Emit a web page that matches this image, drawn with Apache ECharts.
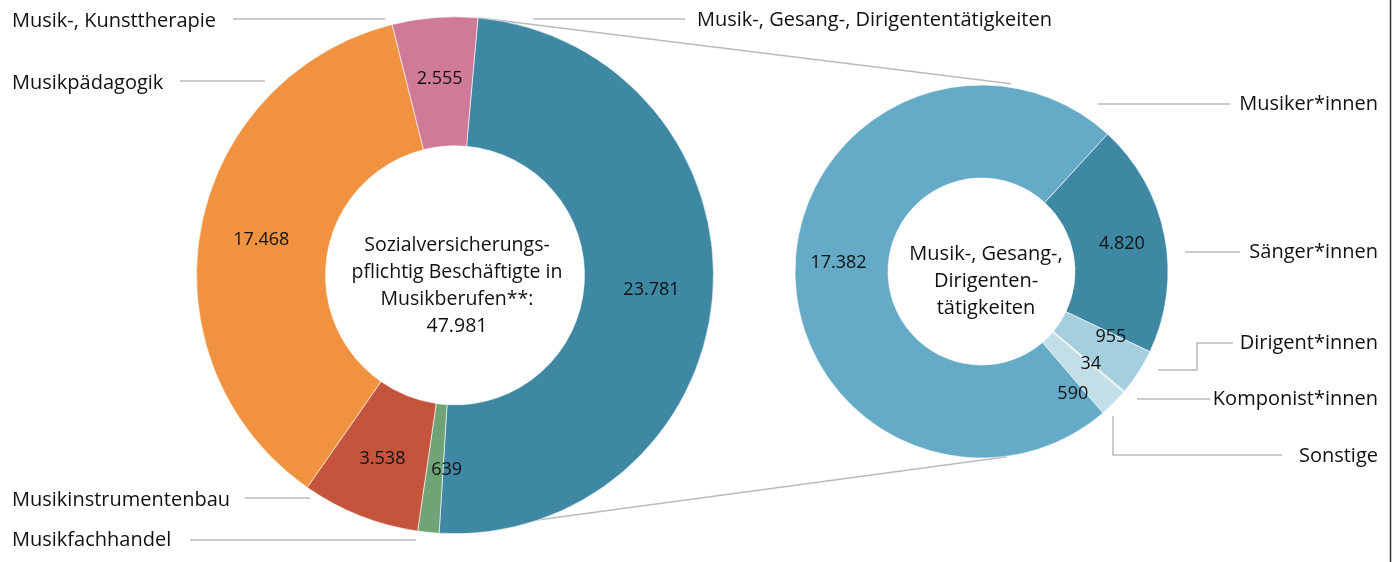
<!DOCTYPE html>
<html lang="de">
<head>
<meta charset="UTF-8">
<title>Musikberufe</title>
<script src="https://cdn.jsdelivr.net/npm/echarts@6/dist/echarts.min.js"></script>
<style>
  html, body { margin: 0; padding: 0; background: #fff; }
  #chart { width: 1397px; height: 562px; }
</style>
</head>
<body>
<div id="chart"></div>
<script>
// Hauptkreis: sozialversicherungspflichtig Beschäftigte
var mainNames = ['Musik-, Gesang-, Dirigententätigkeiten', 'Musikfachhandel', 'Musikinstrumentenbau', 'Musikpädagogik', 'Musik-, Kunsttherapie'];
var mainValues = [23781, 639, 3538, 17468, 2555];
var mainColors = ['#3e88a3', '#6fa477', '#c4553c', '#f0923f', '#cf7a99'];

// Aufteilung Musik-, Gesang-, Dirigententätigkeiten
var subNames = ['Sänger*innen', 'Dirigent*innen', 'Komponist*innen', 'Sonstige', 'Musiker*innen'];
var subValues = [4820, 955, 34, 590, 17382];
var subColors = ['#3e88a3', '#a5cede', '#d3e8f0', '#c2dfe8', '#65aac6'];

var centerTitle = 'Sozialversicherungs-\npflichtig Beschäftigte in\nMusikberufen**:';
var subTitle = 'Musik-, Gesang-,\nDirigenten-\ntätigkeiten';

// geometry
var FONT = '"Open Sans", "Noto Sans", sans-serif';
var INK = '#111';
var L = { cx: 455, cy: 275.3, r0: 129.5, r1: 258.5, start: 84.9 };
var R = { cx: 981.5, cy: 271.5, r0: 93.5, r1: 186.5, start: 47.5 };
var LINE = '#bababa';

// manual nudges of value labels (by data index)
var mainLabelShift = [[0, 0], [12, -1], [0, 0], [0, 0], [0, 0]];
var subLabelShift = [[0, 0], [9, -12], [0, 0], [-10, 21], [0, -6]];

// name label placement + leader lines
var mainNamePos = [
  { x: 697, y: 20, align: 'left', line: [[533, 19], [685, 19]] },
  { x: 12, y: 540, align: 'left', line: [[190, 540], [416, 540]] },
  { x: 12, y: 500, align: 'left', line: [[245, 498], [310, 498]] },
  { x: 12, y: 83, align: 'left', line: [[180, 81], [265, 81]] },
  { x: 12, y: 21, align: 'left', line: [[233, 19], [385, 19]] }
];
var subNamePos = [
  { x: 1378, y: 252, align: 'right', line: [[1185, 252], [1240, 252]] },
  { x: 1378, y: 343, align: 'right', line: [[1158, 370], [1197, 370], [1197, 343], [1233, 343]] },
  { x: 1378, y: 399, align: 'right', line: [[1137, 399], [1210, 399]] },
  { x: 1378, y: 456, align: 'right', line: [[1113, 416], [1113, 455], [1282, 455]] },
  { x: 1378, y: 104, align: 'right', line: [[1098, 104], [1230, 104]] }
];

function fmt(n) {
  return String(n).replace(/\B(?=(\d{3})+(?!\d))/g, '.');
}
function polar(c, r, deg) {
  var a = deg * Math.PI / 180;
  return [c.cx + r * Math.sin(a), c.cy - r * Math.cos(a)];
}
function sum(arr) { return arr.reduce(function (a, b) { return a + b; }, 0); }

var total = sum(mainValues);
var tealStart = 90 - L.start;
var tealEnd = tealStart + mainValues[0] / total * 360;

var graphics = [];
// connector lines between the two rings
graphics.push({ type: 'polyline', z: -10, shape: { points: [polar(L, L.r1, tealStart), polar(R, 190, 8.9)] }, style: { stroke: LINE, lineWidth: 1.5, fill: null } });
graphics.push({ type: 'polyline', z: -10, shape: { points: [polar(L, L.r1, tealEnd), polar(R, 187, 172.2)] }, style: { stroke: LINE, lineWidth: 1.5, fill: null } });

function addNames(names, pos) {
  names.forEach(function (n, i) {
    var p = pos[i];
    graphics.push({ type: 'polyline', z: 5, shape: { points: p.line }, style: { stroke: LINE, lineWidth: 1.5, fill: null } });
    graphics.push({ type: 'text', z: 10, style: { text: n, x: p.x, y: p.y, fill: INK, fontSize: 20, fontFamily: FONT, align: p.align, verticalAlign: 'middle', textAlign: p.align, textVerticalAlign: 'middle' } });
  });
}
addNames(mainNames, mainNamePos);
addNames(subNames, subNamePos);

graphics.push({ type: 'text', z: 10, style: { text: centerTitle + '\n' + fmt(total), x: 457, y: 286, fill: INK, fontSize: 19.5, lineHeight: 27, fontFamily: FONT, align: 'center', verticalAlign: 'middle', textAlign: 'center', textVerticalAlign: 'middle' } });
graphics.push({ type: 'text', z: 10, style: { text: subTitle, x: 986, y: 281, fill: INK, fontSize: 20, lineHeight: 27, fontFamily: FONT, align: 'center', verticalAlign: 'middle', textAlign: 'center', textVerticalAlign: 'middle' } });

// right border rule
graphics.push({ type: 'line', z: 10, shape: { x1: 1390.5, y1: 0, x2: 1390.5, y2: 562 }, style: { stroke: '#333', lineWidth: 1.5 } });

function ring(c, names, values, colors, shift) {
  return {
    type: 'pie',
    center: [c.cx, c.cy],
    radius: [c.r0, c.r1],
    startAngle: c.start,
    clockwise: true,
    avoidLabelOverlap: false,
    silent: true,
    label: {
      show: true, position: 'inside', color: INK, fontSize: 18, fontFamily: FONT,
      formatter: function (p) { return fmt(p.value); }
    },
    labelLine: { show: false },
    labelLayout: function (p) { var s = shift[p.dataIndex]; return { dx: s[0], dy: s[1] }; },
    itemStyle: { borderColor: '#fff', borderWidth: 0.6 },
    emphasis: { disabled: true },
    data: values.map(function (v, i) {
      return { value: v, name: names[i], itemStyle: { color: colors[i] } };
    })
  };
}

var chart = echarts.init(document.getElementById('chart'));
chart.setOption({
  animation: false,
  backgroundColor: '#fff',
  tooltip: { show: false },
  graphic: graphics,
  series: [
    ring(L, mainNames, mainValues, mainColors, mainLabelShift),
    ring(R, subNames, subValues, subColors, subLabelShift)
  ]
});
</script>
</body>
</html>
